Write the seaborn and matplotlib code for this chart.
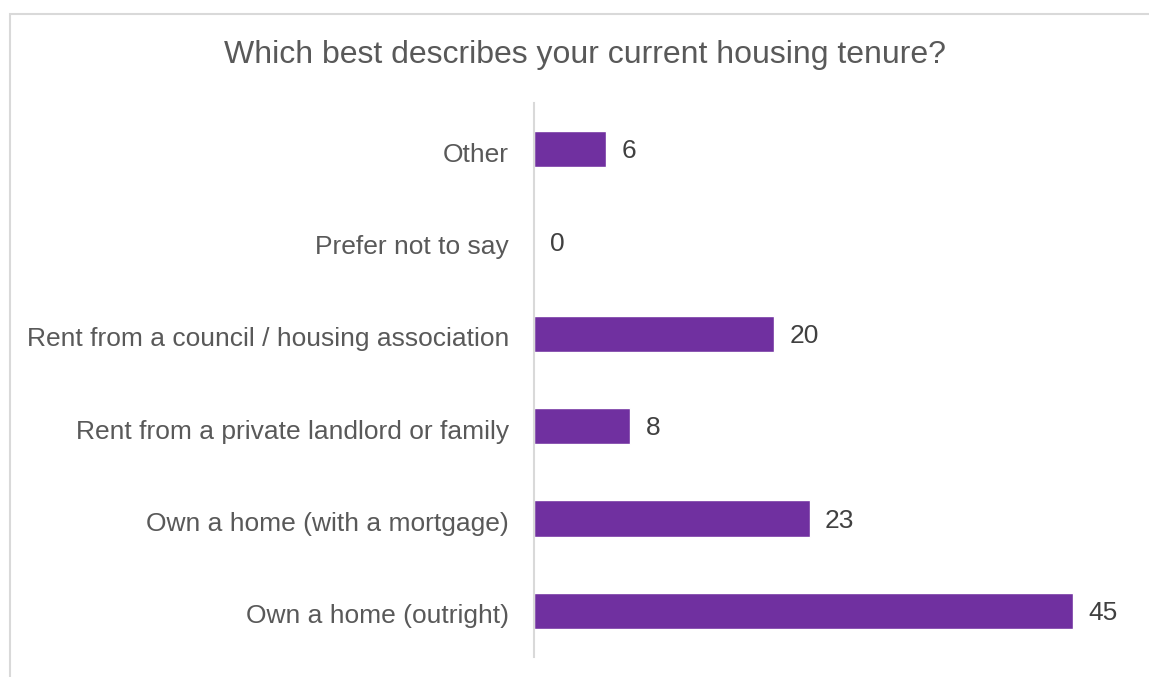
import matplotlib
matplotlib.use("Agg")
import matplotlib.pyplot as plt
import matplotlib.transforms as mtransforms
import seaborn as sns
import pandas as pd
from matplotlib.patches import Rectangle

categories = [
    "Other",
    "Prefer not to say",
    "Rent from a council / housing association",
    "Rent from a private landlord or family",
    "Own a home (with a mortgage)",
    "Own a home (outright)",
]
values = [6, 0, 20, 8, 23, 45]
title = "Which best describes your current housing tenure?"

sns.set_theme(style="white")
plt.rcParams["font.family"] = ["Liberation Sans", "DejaVu Sans"]

df = pd.DataFrame({"category": categories, "value": values})

W, H = 1149, 677
fig = plt.figure(figsize=(W / 100, H / 100), dpi=100)
ax = fig.add_axes([534 / W, 1 - 657 / H, (1133 - 534) / W, (657 - 103) / H])

sns.barplot(data=df, x="value", y="category", orient="h", color="#7030A0",
            saturation=1, width=0.39, ax=ax)

ax.set_xlim(0, 50)
ax.set_ylim(5.5, -0.5)
ax.set_xlabel("")
ax.set_ylabel("")
ax.set_xticks([])
for s in ["top", "right", "bottom"]:
    ax.spines[s].set_visible(False)
ax.spines["left"].set_color("#D9D9D9")
ax.spines["left"].set_linewidth(1.5)
ax.tick_params(axis="y", length=0, pad=18, labelsize=19, labelcolor="#595959")

down3 = mtransforms.ScaledTranslation(0, -0.03, fig.dpi_scale_trans)
down2 = mtransforms.ScaledTranslation(0, -0.02, fig.dpi_scale_trans)
for lab in ax.get_yticklabels():
    lab.set_transform(lab.get_transform() + down3)

for i, v in enumerate(values):
    ax.text(v + 1.3, i, str(v), va="center", ha="left", fontsize=19, color="#404040",
            transform=ax.transData + down2)

fig.text(585 / W, 1 - 55 / H, title, ha="center", va="center", fontsize=23, color="#595959")

fig.patches.append(Rectangle((10 / W, -0.05), 1.1, 1 - 14 / H + 0.05,
                             transform=fig.transFigure, fill=False,
                             edgecolor="#D9D9D9", linewidth=1.5))

fig.savefig("out.png", dpi=100)
